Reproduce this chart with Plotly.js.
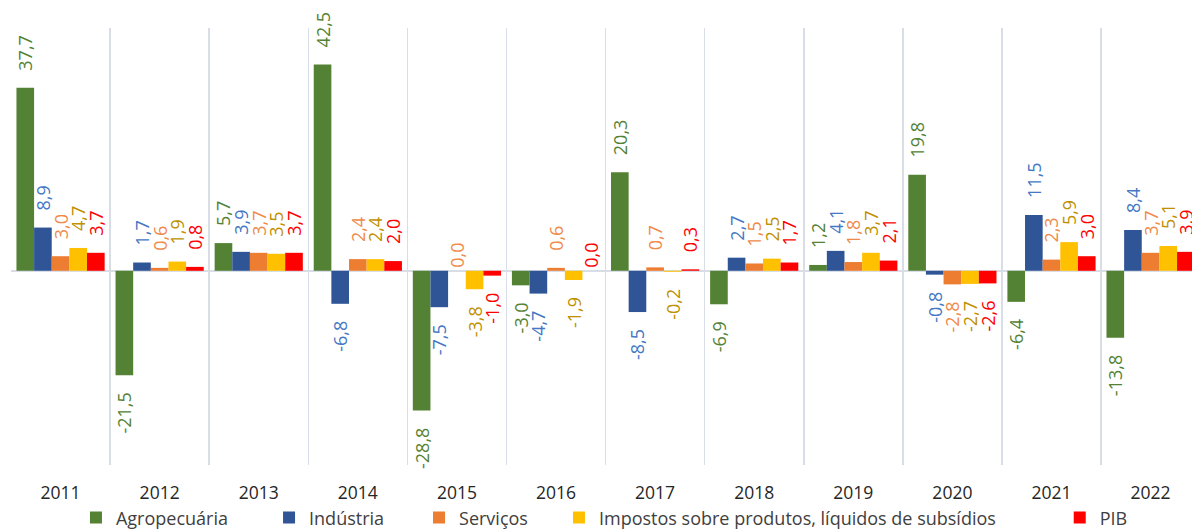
<!DOCTYPE html>
<html>
<head>
<meta charset="utf-8">
<script src="https://cdn.plot.ly/plotly-3.0.1.min.js"></script>
<style>
html,body{margin:0;padding:0;background:#fff;}
#chart{width:1192px;height:531px;}
</style>
</head>
<body>
<div id="chart"></div>
<script>
const years = ['2011','2012','2013','2014','2015','2016','2017','2018','2019','2020','2021','2022'];
const agropecuaria = [37.7, -21.5, 5.7, 42.5, -28.8, -3.0, 20.3, -6.9, 1.2, 19.8, -6.4, -13.8];
const industria    = [8.9, 1.7, 3.9, -6.8, -7.5, -4.7, -8.5, 2.7, 4.1, -0.8, 11.5, 8.4];
const servicos     = [3.0, 0.6, 3.7, 2.4, 0.0, 0.6, 0.7, 1.5, 1.8, -2.8, 2.3, 3.7];
const impostos     = [4.7, 1.9, 3.5, 2.4, -3.8, -1.9, -0.2, 2.5, 3.7, -2.7, 5.9, 5.1];
const pib          = [3.7, 0.8, 3.7, 2.0, -1.0, 0.0, 0.3, 1.7, 2.1, -2.6, 3.0, 3.9];

const seriesNames = ['Agropecuária','Indústria','Serviços','Impostos sobre produtos, líquidos de subsídios','PIB'];
const seriesData = [agropecuaria, industria, servicos, impostos, pib];
const barColors = ['#548235','#2F5597','#ED7D31','#FFC000','#FF0000'];
const labelColors = ['#548235','#4477C4','#F08A4B','#BF9000','#FF0000'];
const legendIds = ['legend','legend2','legend3','legend4','legend5'];
const legendX = [0.0550, 0.2185, 0.3455, 0.4640, 0.8880];

const PAD = '\u00A0\u00A0\u00A0';
function templates(vals){
  return vals.map(v => v > 0 ? PAD + '%{y:.1f}' : (v < 0 ? '%{y:.1f}' + PAD : '%{y:.1f}'));
}

const traces = seriesData.map((vals, i) => ({
  type: 'bar',
  name: seriesNames[i],
  legend: legendIds[i],
  x: years,
  y: vals,
  marker: {color: barColors[i], line: {width: 0}},
  texttemplate: templates(vals),
  textposition: 'outside',
  textangle: -90,
  constraintext: 'none',
  cliponaxis: false,
  textfont: {family: 'Open Sans, sans-serif', size: 18, color: labelColors[i]},
  hoverinfo: 'none'
}));

const layout = {
  width: 1192,
  height: 531,
  margin: {l: 11, r: 0, t: 28, b: 66, autoexpand: false},
  paper_bgcolor: '#ffffff',
  plot_bgcolor: '#ffffff',
  separators: ',.',
  barmode: 'group',
  bargap: 0.11,
  bargroupgap: 0,
  showlegend: true,
  font: {family: 'Open Sans, sans-serif', color: '#262626'},
  xaxis: {
    type: 'category',
    range: [-0.5, 11.418],
    tickson: 'boundaries',
    showgrid: true,
    gridcolor: '#D9DEE6',
    gridwidth: 1.5,
    ticks: '',
    showline: false,
    zeroline: false,
    automargin: false,
    ticklabelstandoff: 15,
    tickfont: {family: 'Open Sans, sans-serif', size: 17.5, color: '#262626'}
  },
  yaxis: {
    range: [-40, 50],
    showgrid: false,
    showticklabels: false,
    ticks: '',
    zeroline: true,
    zerolinecolor: '#D9DEE6',
    zerolinewidth: 1.5,
    showline: false,
    automargin: false
  }
};

legendIds.forEach((id, i) => {
  layout[id] = {
    orientation: 'h',
    x: legendX[i],
    xanchor: 'left',
    y: -0.121,
    yanchor: 'middle',
    font: {family: 'Open Sans, sans-serif', size: 18, color: '#404040'},
    itemwidth: 30,
    bgcolor: 'rgba(0,0,0,0)'
  };
});

Plotly.newPlot('chart', traces, layout, {displayModeBar: false, staticPlot: true});
</script>
</body>
</html>
